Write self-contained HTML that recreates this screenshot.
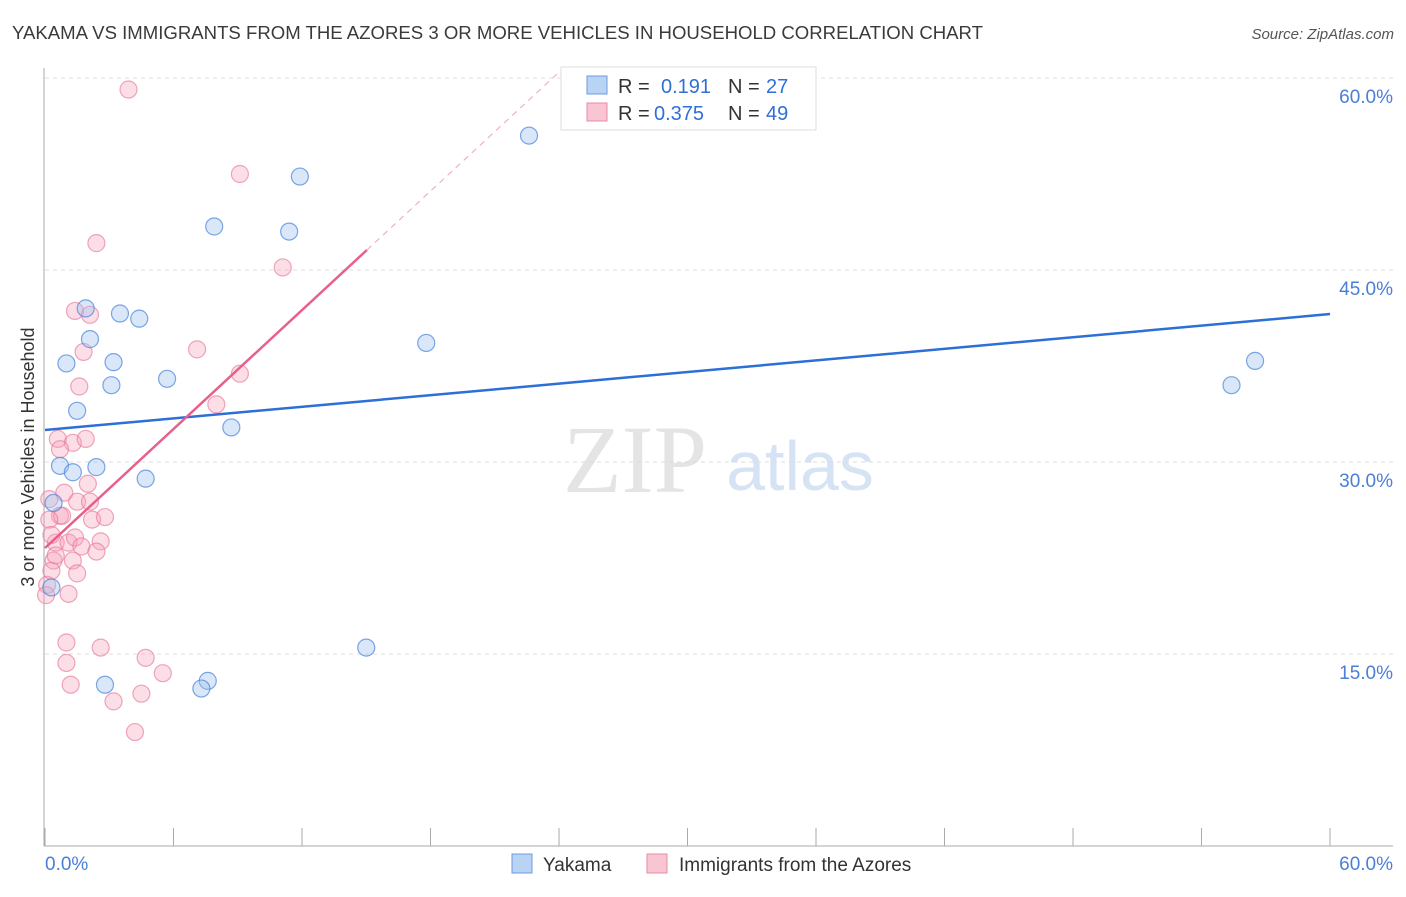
<!DOCTYPE html>
<html><head><meta charset="utf-8"><style>
body{margin:0;background:#fff;font-family:"Liberation Sans",sans-serif;}
</style></head><body>
<svg id="c" width="1406" height="892" xmlns="http://www.w3.org/2000/svg" style="font-family:'Liberation Sans',sans-serif">
<text x="12" y="39" font-size="18" fill="#3a3a3a" textLength="971" lengthAdjust="spacingAndGlyphs">YAKAMA VS IMMIGRANTS FROM THE AZORES 3 OR MORE VEHICLES IN HOUSEHOLD CORRELATION CHART</text>
<text x="1394" y="39" font-size="15" fill="#555" font-style="italic" text-anchor="end">Source: ZipAtlas.com</text>
<text x="635" y="492" font-size="96" fill="#e4e4e4" font-family="Liberation Serif" text-anchor="middle">ZIP</text>
<text x="800" y="490" font-size="70" fill="#d6e3f5" text-anchor="middle">atlas</text>
<g id="grid"></g><g id="axes"></g><g id="marks"></g>
<text transform="translate(34,457) rotate(-90)" font-size="18" fill="#333" text-anchor="middle">3 or more Vehicles in Household</text>
<text x="45" y="870" font-size="19" fill="#4a7fd6">0.0%</text>
<text x="1393" y="870" font-size="19" fill="#4a7fd6" text-anchor="end">60.0%</text>
<g>
<rect x="561" y="67" width="255" height="63" fill="#fff" stroke="#ddd"/>
<rect x="587" y="76" width="20" height="18" fill="#b9d3f5" stroke="#6c9be0"/>
<rect x="587" y="103" width="20" height="18" fill="#f9c5d3" stroke="#e88aa6"/>
<text x="618" y="93" font-size="20" fill="#333">R = <tspan x="661" fill="#2f6fd6">0.191</tspan><tspan x="728" fill="#333">N = </tspan><tspan x="766" fill="#2f6fd6">27</tspan></text>
<text x="618" y="120" font-size="20" fill="#333">R = <tspan x="654" fill="#2f6fd6">0.375</tspan><tspan x="728" fill="#333">N = </tspan><tspan x="766" fill="#2f6fd6">49</tspan></text>
</g>
<g>
<rect x="512" y="854" width="20" height="19" fill="#b9d3f5" stroke="#6c9be0"/>
<text x="543" y="871" font-size="19" fill="#333">Yakama</text>
<rect x="647" y="854" width="20" height="19" fill="#f9c5d3" stroke="#e88aa6"/>
<text x="679" y="871" font-size="19" fill="#333">Immigrants from the Azores</text>
</g>
</svg>
<script>
const yTicks=[15,30,45,60];
const yTickLabels=["15.0%","30.0%","45.0%","60.0%"];
const xTicks=[0,6,12,18,24,30,36,42,48,54,60];
const blueX=[22.6,11.9,7.9,11.4,1.9,3.5,4.4,2.1,1.0,3.2,3.1,5.7,1.5,8.7,0.7,1.3,2.4,4.7,0.4,0.3,17.8,15.0,2.8,7.6,7.3,55.4,56.5];
const blueY=[55.5,52.3,48.4,48.0,42.0,41.6,41.2,39.6,37.7,37.8,36.0,36.5,34.0,32.7,29.7,29.2,29.6,28.7,26.8,20.2,39.3,15.5,12.6,12.9,12.3,36.0,37.9];
const pinkX=[3.9,9.1,2.4,11.1,1.4,2.1,1.8,7.1,1.6,9.1,8.0,0.6,1.3,1.9,0.7,0.9,2.0,1.5,0.7,2.2,2.8,0.2,0.5,1.1,1.4,2.6,1.7,2.4,1.3,0.4,1.5,0.1,0.05,1.1,1.0,2.6,1.0,4.7,5.5,1.2,4.5,3.2,4.2,0.5,0.3,0.8,2.1,0.2,0.3];
const pinkY=[59.1,52.5,47.1,45.2,41.8,41.5,38.6,38.8,35.9,36.9,34.5,31.8,31.5,31.8,31.0,27.6,28.3,26.9,25.8,25.5,25.7,27.1,23.7,23.7,24.1,23.8,23.4,23.0,22.3,22.3,21.3,20.4,19.6,19.7,15.9,15.5,14.3,14.7,13.5,12.6,11.9,11.3,8.9,22.7,21.5,25.8,26.9,25.5,24.3];
const blueTrend=[32.5,41.56];
const pinkTrend=[23.28,1.549];
const X=v=>45+v*21.417, Y=v=>846-v*12.8;
const NS="http://www.w3.org/2000/svg";
function mk(tag,attrs,parent){const e=document.createElementNS(NS,tag);for(const k in attrs)e.setAttribute(k,attrs[k]);parent.appendChild(e);return e;}
const grid=document.getElementById('grid'),axes=document.getElementById('axes'),marks=document.getElementById('marks');
yTicks.forEach((t,i)=>{
 const l=mk('line',{x1:45,x2:1393,y1:Y(t),y2:Y(t),stroke:'#ddd','stroke-dasharray':'4,4'},grid);
 
 
 const tx=mk('text',{x:1393,y:Y(t)+25,'font-size':19,fill:'#4a7fd6','text-anchor':'end'},axes);
 tx.textContent=yTickLabels[i];
 
 
});
let a=mk('line',{x1:44,x2:44,y1:68,y2:846,stroke:'#aaa'},axes);


a=mk('line',{x1:44,x2:1393,y1:846,y2:846,stroke:'#aaa'},axes);


xTicks.forEach(t=>{
 const l=mk('line',{x1:X(t),x2:X(t),y1:828,y2:846,stroke:'#aaa'},axes);
 
 
});
pinkX.forEach((x,i)=>{
 const c=mk('circle',{cx:X(x),cy:Y(pinkY[i]),r:8.5,fill:'rgba(245,160,185,0.35)',stroke:'rgba(232,120,155,0.65)','stroke-width':1.2},marks);
 
 
});
blueX.forEach((x,i)=>{
 const c=mk('circle',{cx:X(x),cy:Y(blueY[i]),r:8.5,fill:'rgba(160,195,240,0.4)',stroke:'rgba(70,130,220,0.7)','stroke-width':1.2},marks);
 
 
});
let t=mk('line',{x1:X(0),y1:Y(blueTrend[0]),x2:X(60),y2:Y(blueTrend[1]),stroke:'#2c6fd6','stroke-width':2.5},marks);


const pEnd=15.03, pTop=(60.5-pinkTrend[0])/pinkTrend[1];
t=mk('line',{x1:X(0),y1:Y(pinkTrend[0]),x2:X(pEnd),y2:Y(pinkTrend[0]+pinkTrend[1]*pEnd),stroke:'#e8608a','stroke-width':2.5},marks);


t=mk('line',{x1:X(pEnd),y1:Y(pinkTrend[0]+pinkTrend[1]*pEnd),x2:X(pTop),y2:Y(pinkTrend[0]+pinkTrend[1]*pTop),stroke:'#f0b0c4','stroke-width':1.2,'stroke-dasharray':'6,5'},marks);


</script>
</body></html>
